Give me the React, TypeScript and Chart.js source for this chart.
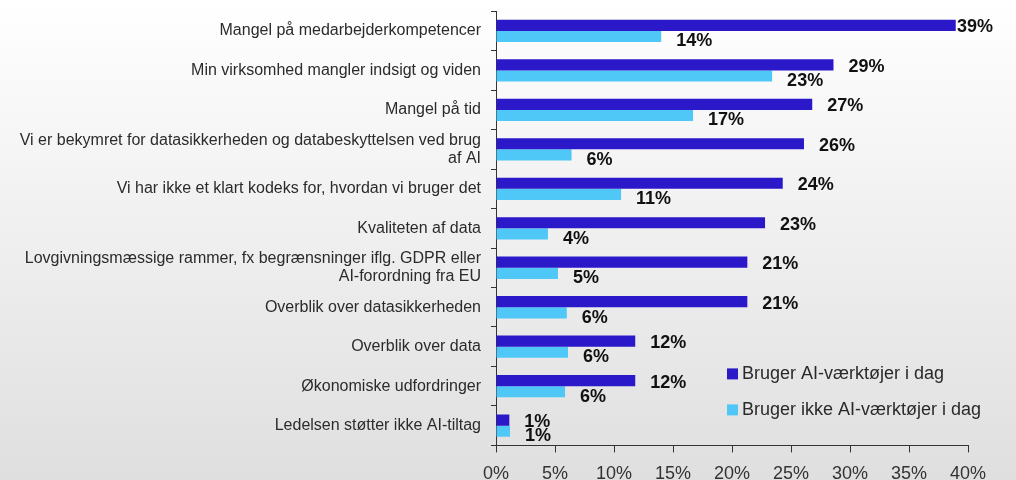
import React, { useEffect, useRef } from 'react';
import { Chart, registerables } from 'chart.js';

Chart.register(...registerables);

const categories: (string | string[])[] = [
  'Mangel på medarbejderkompetencer',
  'Min virksomhed mangler indsigt og viden',
  'Mangel på tid',
  ['Vi er bekymret for datasikkerheden og databeskyttelsen ved brug', 'af AI'],
  'Vi har ikke et klart kodeks for, hvordan vi bruger det',
  'Kvaliteten af data',
  ['Lovgivningsmæssige rammer, fx begrænsninger iflg. GDPR eller', 'AI-forordning fra EU'],
  'Overblik over datasikkerheden',
  'Overblik over data',
  'Økonomiske udfordringer',
  'Ledelsen støtter ikke AI-tiltag',
];

const usersValues = [38.96, 28.6, 26.8, 26.1, 24.3, 22.8, 21.3, 21.3, 11.8, 11.8, 1.13];
const nonUsersValues = [14.0, 23.4, 16.7, 6.4, 10.6, 4.4, 5.25, 6.0, 6.1, 5.85, 1.19];

const seriesNames = ['Bruger AI-værktøjer i dag', 'Bruger ikke AI-værktøjer i dag'];
const seriesColors = ['#2B19C9', '#4FC8F8'];

const xMin = 0;
const xMax = 40;
const xStep = 5;

const FONT = '"Liberation Sans", Arial, sans-serif';

const valueLabelPlugin = {
  id: 'valueLabels',
  afterDatasetsDraw(chart: any) {
    const ctx = chart.ctx;
    const area = chart.chartArea;
    ctx.save();
    ctx.font = `bold 18px ${FONT}`;
    ctx.fillStyle = '#111111';
    ctx.textAlign = 'left';
    ctx.textBaseline = 'middle';
    chart.data.datasets.forEach((ds: any, di: number) => {
      const meta = chart.getDatasetMeta(di);
      meta.data.forEach((el: any, i: number) => {
        const v = ds.data[i];
        const x = Math.min(el.x + 15, area.right - 11);
        const y = el.y + (di === 0 ? 2 : 5);
        ctx.fillText(`${Math.round(v)}%`, x, y);
      });
    });
    ctx.restore();
  },
};

const legendPlugin = {
  id: 'insideLegend',
  afterDraw(chart: any) {
    const ctx = chart.ctx;
    const area = chart.chartArea;
    ctx.save();
    ctx.font = `18px ${FONT}`;
    ctx.textAlign = 'left';
    ctx.textBaseline = 'middle';
    const sx = area.right - 241;
    const tops = [area.bottom - 77, area.bottom - 41];
    chart.data.datasets.forEach((ds: any, di: number) => {
      const top = tops[di];
      ctx.fillStyle = ds.backgroundColor;
      ctx.fillRect(sx, top, 11, 11);
      ctx.fillStyle = '#2a2a2a';
      ctx.fillText(ds.label, sx + 15, top + 6);
    });
    ctx.restore();
  },
};

export default function App() {
  const canvasRef = useRef<HTMLCanvasElement | null>(null);

  useEffect(() => {
    if (!canvasRef.current) return;
    const chart = new Chart(canvasRef.current, {
      type: 'bar',
      data: {
        labels: categories,
        datasets: [
          {
            label: seriesNames[0],
            data: usersValues,
            backgroundColor: seriesColors[0],
            barPercentage: 1,
            categoryPercentage: 0.565,
          },
          {
            label: seriesNames[1],
            data: nonUsersValues,
            backgroundColor: seriesColors[1],
            barPercentage: 1,
            categoryPercentage: 0.565,
          },
        ],
      },
      options: {
        indexAxis: 'y',
        responsive: false,
        animation: false,
        layout: { padding: { top: 3, right: 48, bottom: 0, left: 0 } },
        plugins: {
          legend: { display: false },
          tooltip: { enabled: false },
        },
        scales: {
          x: {
            min: xMin,
            max: xMax,
            ticks: {
              stepSize: xStep,
              callback: (v: any) => `${v}%`,
              font: { family: FONT, size: 18 },
              color: '#333333',
              padding: 11,
            },
            grid: {
              drawOnChartArea: false,
              drawTicks: true,
              tickLength: 7,
              color: '#333333',
            },
            border: { display: true, color: '#333333', width: 1 },
          },
          y: {
            afterFit: (s: any) => {
              s.width = 496;
            },
            ticks: {
              font: { family: FONT, size: 16, lineHeight: 1.15 },
              color: '#2b2b2b',
              padding: 10,
              autoSkip: false,
            },
            grid: {
              drawOnChartArea: false,
              drawTicks: true,
              tickLength: 5,
              color: '#333333',
            },
            border: { display: true, color: '#333333', width: 1 },
          },
        },
      },
      plugins: [valueLabelPlugin, legendPlugin],
    });
    return () => chart.destroy();
  }, []);

  return (
    <div
      style={{
        position: 'fixed',
        left: 0,
        top: 0,
        width: 1016,
        height: 480,
        overflow: 'hidden',
        background: 'linear-gradient(to bottom, #ffffff 0%, #dfdfdf 100%)',
      }}
    >
      <canvas
        ref={canvasRef}
        width={1016}
        height={504}
        style={{ display: 'block', marginTop: -8 }}
      />
    </div>
  );
}
